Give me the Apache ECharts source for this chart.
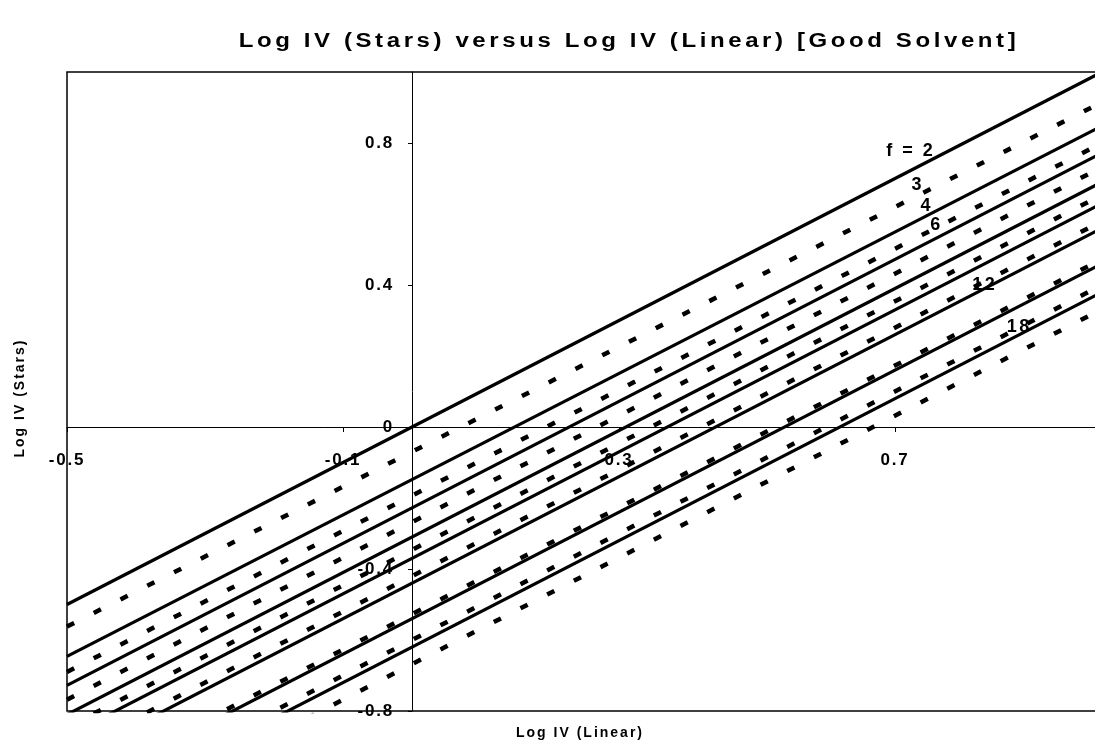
<!DOCTYPE html>
<html>
<head>
<meta charset="utf-8">
<script src="https://cdn.jsdelivr.net/npm/echarts@6/dist/echarts.min.js"></script>
<style>
  html, body { margin: 0; padding: 0; background: #fff; }
  #chart { width: 1095px; height: 743px; }
</style>
</head>
<body>
<div id="chart"></div>
<script>
// x positions where every line starts and ends (Log IV linear)
const xEnds = [-0.5, 1.0];

// Solid lines: Log IV (stars) at x = -0.5 and at x = 1.0
const solidStart = [-0.50, -0.646, -0.728, -0.81, -0.87, -0.94, -1.04, -1.12];
const solidEnd   = [ 1.00,  0.848,  0.772,  0.69,  0.63,  0.56,  0.46,  0.38];

// Dashed lines: Log IV (stars) at x = -0.5 and at x = 1.0
const dashedStart = [-0.562, -0.69, -0.768, -0.846, -0.92, -1.027, -1.10, -1.168];
const dashedEnd   = [ 0.915,  0.80,  0.732,  0.654,  0.58,  0.473,  0.40,  0.332];

// Arm-number labels written next to the lines
const fLabels = ['f = 2', '3', '4', '6', '12', '18'];
const fLabelX = [0.723, 0.733, 0.746, 0.760, 0.830, 0.880];
const fLabelY = [0.777, 0.682, 0.623, 0.569, 0.400, 0.282];

// Tick labels
const xTicks = [-0.5, -0.1, 0.3, 0.7];
const yTicks = [-0.8, -0.4, 0, 0.4, 0.8];

const X_RANGE = [-0.5, 1.0];
const Y_RANGE = [-0.8, 1.0];
const GRID = { left: 67, top: 72, width: 1035, height: 639 };

const FONT = '"Liberation Sans", Arial, sans-serif';

// Letter spacing of the printed lettering, keyed by font size.
const SPACING = { 20: '3px', 14: '2px', 17: '1.8px', 18: '2.5px' };
(function () {
  const proto = CanvasRenderingContext2D.prototype;
  const fill = proto.fillText;
  proto.fillText = function (text, x, y, maxW) {
    const m = /(\d+)px/.exec(this.font);
    const sp = m && SPACING[m[1]];
    if (sp && 'letterSpacing' in this) {
      const prev = this.letterSpacing;
      this.letterSpacing = sp;
      const r = maxW === undefined ? fill.call(this, text, x, y) : fill.call(this, text, x, y, maxW);
      this.letterSpacing = prev;
      return r;
    }
    return fill.apply(this, arguments);
  };
})();

function lineSeries(start, end, dashed) {
  return start.map((y0, i) => ({
    type: 'line',
    data: [[xEnds[0], y0], [xEnds[1], end[i]]],
    symbol: 'none',
    silent: true,
    clip: true,
    z: 3,
    lineStyle: dashed
      ? { color: '#000', width: 4.5, type: [8, 22], cap: 'butt' }
      : { color: '#000', width: 3.2, type: 'solid' }
  }));
}

// The axes cross at zero: shift each axis from the grid edge to its zero line.
const xAxisShift = -GRID.height * (0 - Y_RANGE[0]) / (Y_RANGE[1] - Y_RANGE[0]);
const yAxisShift = -GRID.width * (0 - X_RANGE[0]) / (X_RANGE[1] - X_RANGE[0]);

const chart = echarts.init(document.getElementById('chart'), null, { renderer: 'canvas' });

chart.setOption({
  backgroundColor: '#fff',
  animation: false,
  grid: Object.assign({
    show: true, borderColor: '#000', borderWidth: 1.5, backgroundColor: 'transparent',
    containLabel: false, outerBoundsMode: 'none'
  }, GRID),
  xAxis: {
    type: 'value',
    min: X_RANGE[0], max: X_RANGE[1],
    position: 'bottom',
    offset: xAxisShift,
    axisLine: { onZero: false, lineStyle: { color: '#000', width: 1 } },
    axisTick: { show: true, length: 5, customValues: xTicks, lineStyle: { color: '#000' } },
    axisLabel: {
      customValues: xTicks, margin: 25,
      fontFamily: FONT, fontWeight: 'bold', fontSize: 17, color: '#000',
      formatter: v => String(Math.round(v * 10) / 10)
    },
    splitLine: { show: false }
  },
  yAxis: {
    type: 'value',
    min: Y_RANGE[0], max: Y_RANGE[1],
    position: 'left',
    offset: yAxisShift,
    axisLine: { onZero: false, lineStyle: { color: '#000', width: 1 } },
    axisTick: { show: true, length: 4, customValues: yTicks, lineStyle: { color: '#000' } },
    axisLabel: {
      customValues: yTicks, margin: 18,
      fontFamily: FONT, fontWeight: 'bold', fontSize: 17, color: '#000',
      formatter: v => String(Math.round(v * 10) / 10)
    },
    splitLine: { show: false }
  },
  graphic: [
    { type: 'text', x: 629, y: 41, z: 10, scaleX: 1.2,
      style: { text: 'Log IV (Stars) versus Log IV (Linear) [Good Solvent]',
               font: 'bold 20px ' + FONT, fill: '#000', align: 'center', verticalAlign: 'middle' } },
    { type: 'text', x: 20, y: 398, rotation: Math.PI / 2, z: 10,
      style: { text: 'Log IV (Stars)', font: 'bold 14px ' + FONT, fill: '#000', align: 'center', verticalAlign: 'middle' } },
    { type: 'text', x: 580, y: 733, z: 10,
      style: { text: 'Log IV (Linear)', font: 'bold 14px ' + FONT, fill: '#000', align: 'center', verticalAlign: 'middle' } }
  ],
  series: [
    ...lineSeries(solidStart, solidEnd, false),
    ...lineSeries(dashedStart, dashedEnd, true),
    {
      type: 'scatter',
      symbolSize: 0,
      silent: true,
      z: 5,
      itemStyle: { opacity: 1 },
      data: fLabels.map((t, i) => ({ name: t, value: [fLabelX[i], fLabelY[i]] })),
      label: {
        show: true, position: 'inside', formatter: p => p.name,
        fontFamily: FONT, fontWeight: 'bold', fontSize: 18, color: '#000', opacity: 1
      }
    }
  ]
});
</script>
</body>
</html>
